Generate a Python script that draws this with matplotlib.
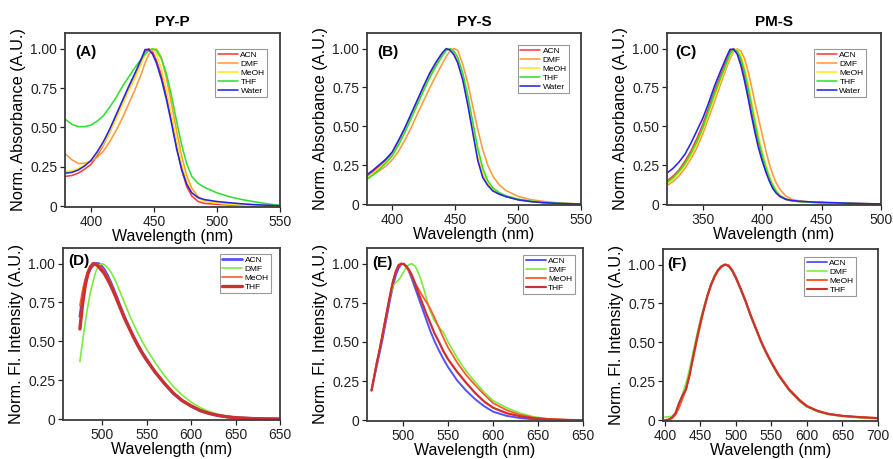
import matplotlib
matplotlib.use("Agg")
import matplotlib.pyplot as plt

plt.rcParams['font.family'] = ['Liberation Sans', 'DejaVu Sans']

# ---------------- data ----------------
titles = ["PY-P", "PY-S", "PM-S"]
panel_letters = ["(A)", "(B)", "(C)", "(D)", "(E)", "(F)"]
abs_solvents = ["ACN", "DMF", "MeOH", "THF", "Water"]
fl_solvents = ["ACN", "DMF", "MeOH", "THF"]

wl_A = [380, 385, 390, 395, 400, 405, 410, 415, 420, 425, 430, 435, 440, 443, 446, 449, 452,
        456, 460, 464, 468, 472, 476, 480, 485, 490, 500, 510, 520, 530, 540, 550]
A_ACN = [0.19, 0.195, 0.21, 0.235, 0.265, 0.32, 0.39, 0.47, 0.56, 0.65, 0.74, 0.82, 0.91, 0.98, 1.0, 0.98, 0.925,
         0.83, 0.70, 0.55, 0.38, 0.23, 0.125, 0.065, 0.03, 0.018, 0.012, 0.008, 0.005, 0.003, 0.002, 0.001]
A_DMF = [0.33, 0.295, 0.272, 0.272, 0.285, 0.31, 0.35, 0.41, 0.48, 0.56, 0.65, 0.74, 0.84, 0.91, 0.965, 0.993, 0.998,
         0.945, 0.81, 0.65, 0.48, 0.32, 0.195, 0.115, 0.06, 0.035, 0.02, 0.013, 0.008, 0.005, 0.003, 0.001]
A_MeOH = [0.22, 0.225, 0.24, 0.26, 0.29, 0.335, 0.395, 0.47, 0.555, 0.645, 0.735, 0.815, 0.905, 0.965, 0.99, 0.998, 0.97,
          0.87, 0.735, 0.58, 0.42, 0.27, 0.16, 0.09, 0.05, 0.032, 0.02, 0.013, 0.008, 0.005, 0.003, 0.001]
A_THF = [0.55, 0.52, 0.505, 0.505, 0.515, 0.54, 0.575, 0.63, 0.69, 0.76, 0.82, 0.88, 0.935, 0.965, 0.99, 1.0, 0.99,
         0.935, 0.84, 0.70, 0.54, 0.39, 0.27, 0.19, 0.145, 0.12, 0.085, 0.06, 0.042, 0.028, 0.015, 0.005]
A_Water = [0.21, 0.215, 0.23, 0.255, 0.29, 0.345, 0.41, 0.49, 0.58, 0.67, 0.76, 0.845, 0.935, 0.995, 0.995, 0.965, 0.91,
           0.805, 0.675, 0.525, 0.365, 0.235, 0.14, 0.085, 0.055, 0.042, 0.03, 0.022, 0.015, 0.01, 0.006, 0.003]

wl_B = [380, 385, 390, 395, 400, 405, 410, 415, 420, 425, 430, 435, 440, 443, 446, 449, 452,
        456, 460, 464, 468, 472, 476, 480, 485, 490, 500, 510, 520, 530, 540, 550]
B_ACN = [0.18, 0.21, 0.245, 0.28, 0.325, 0.395, 0.475, 0.565, 0.655, 0.745, 0.83, 0.905, 0.965, 0.993, 0.998, 0.975, 0.925,
         0.82, 0.67, 0.49, 0.31, 0.195, 0.13, 0.09, 0.065, 0.05, 0.03, 0.018, 0.011, 0.006, 0.003, 0.001]
B_DMF = [0.17, 0.19, 0.215, 0.245, 0.285, 0.34, 0.41, 0.49, 0.58, 0.665, 0.75, 0.83, 0.905, 0.95, 0.985, 1.0, 0.99,
         0.90, 0.78, 0.63, 0.48, 0.35, 0.25, 0.18, 0.125, 0.09, 0.05, 0.03, 0.018, 0.01, 0.005, 0.002]
B_MeOH = [0.17, 0.20, 0.235, 0.27, 0.315, 0.385, 0.465, 0.555, 0.645, 0.735, 0.82, 0.895, 0.96, 0.99, 0.998, 0.98, 0.935,
          0.83, 0.68, 0.50, 0.32, 0.20, 0.135, 0.095, 0.068, 0.052, 0.031, 0.019, 0.011, 0.006, 0.003, 0.001]
B_THF = [0.16, 0.19, 0.225, 0.265, 0.31, 0.38, 0.46, 0.55, 0.64, 0.73, 0.815, 0.89, 0.955, 0.99, 1.0, 0.985, 0.945,
         0.845, 0.70, 0.53, 0.36, 0.23, 0.15, 0.105, 0.075, 0.055, 0.033, 0.02, 0.012, 0.007, 0.004, 0.001]
B_Water = [0.19, 0.22, 0.255, 0.29, 0.335, 0.41, 0.49, 0.58, 0.67, 0.76, 0.845, 0.915, 0.975, 1.0, 0.99, 0.96, 0.91,
           0.80, 0.64, 0.46, 0.28, 0.17, 0.12, 0.085, 0.065, 0.05, 0.028, 0.017, 0.01, 0.006, 0.003, 0.001]

wl_C = [320, 325, 330, 335, 340, 345, 350, 355, 360, 365, 370, 373, 376, 379, 382, 385, 388, 391,
        394, 397, 400, 403, 406, 409, 412, 415, 420, 425, 430, 440, 450, 460, 470, 480, 490, 500]
C_ACN = [0.15, 0.18, 0.22, 0.275, 0.34, 0.42, 0.51, 0.62, 0.73, 0.83, 0.925, 0.98, 1.0, 0.98, 0.92, 0.83, 0.72, 0.60,
         0.49, 0.39, 0.30, 0.22, 0.16, 0.11, 0.075, 0.05, 0.03, 0.022, 0.018, 0.013, 0.01, 0.008, 0.006, 0.004, 0.003, 0.002]
C_DMF = [0.12, 0.145, 0.18, 0.23, 0.29, 0.36, 0.45, 0.555, 0.66, 0.77, 0.875, 0.935, 0.98, 0.998, 0.985, 0.94, 0.86, 0.76,
         0.65, 0.55, 0.45, 0.35, 0.26, 0.19, 0.135, 0.095, 0.052, 0.032, 0.023, 0.015, 0.011, 0.008, 0.006, 0.004, 0.003, 0.002]
C_MeOH = [0.13, 0.16, 0.20, 0.25, 0.31, 0.385, 0.475, 0.58, 0.69, 0.795, 0.895, 0.955, 0.99, 0.995, 0.96, 0.885, 0.785, 0.67,
          0.55, 0.44, 0.34, 0.26, 0.185, 0.13, 0.09, 0.06, 0.034, 0.024, 0.019, 0.014, 0.011, 0.008, 0.006, 0.004, 0.003, 0.002]
C_THF = [0.14, 0.17, 0.21, 0.26, 0.325, 0.40, 0.49, 0.60, 0.71, 0.81, 0.905, 0.965, 0.997, 0.985, 0.94, 0.86, 0.755, 0.64,
         0.52, 0.41, 0.32, 0.24, 0.17, 0.12, 0.08, 0.055, 0.032, 0.022, 0.018, 0.013, 0.01, 0.008, 0.006, 0.004, 0.003, 0.002]
C_Water = [0.20, 0.23, 0.27, 0.32, 0.39, 0.47, 0.55, 0.65, 0.76, 0.855, 0.945, 0.995, 0.995, 0.965, 0.895, 0.80, 0.69, 0.57,
           0.46, 0.36, 0.28, 0.21, 0.15, 0.10, 0.07, 0.05, 0.032, 0.024, 0.02, 0.015, 0.012, 0.01, 0.007, 0.005, 0.003, 0.002]

wl_D = [475, 478, 481, 484, 487, 490, 493, 496, 499, 502, 506, 510, 515, 520, 525, 530, 535, 540, 545, 550,
        560, 570, 580, 590, 600, 610, 620, 630, 640, 650, 670, 700]
D_ACN = [0.66, 0.78, 0.87, 0.93, 0.97, 0.99, 1.0, 1.0, 0.985, 0.965, 0.925, 0.875, 0.805, 0.73, 0.66, 0.595, 0.535, 0.48,
         0.43, 0.385, 0.30, 0.23, 0.165, 0.118, 0.083, 0.055, 0.037, 0.024, 0.015, 0.01, 0.004, 0.001]
D_DMF = [0.37, 0.50, 0.62, 0.73, 0.82, 0.89, 0.95, 0.985, 1.0, 0.995, 0.975, 0.945, 0.89, 0.82, 0.75, 0.68, 0.615, 0.555,
         0.50, 0.45, 0.36, 0.28, 0.21, 0.155, 0.11, 0.075, 0.05, 0.032, 0.02, 0.013, 0.005, 0.001]
D_MeOH = [0.73, 0.83, 0.90, 0.95, 0.98, 0.995, 1.0, 0.99, 0.975, 0.955, 0.915, 0.87, 0.80, 0.73, 0.66, 0.595, 0.535, 0.48,
          0.43, 0.385, 0.30, 0.23, 0.168, 0.12, 0.085, 0.056, 0.038, 0.025, 0.016, 0.01, 0.004, 0.001]
D_THF = [0.58, 0.74, 0.86, 0.94, 0.98, 1.0, 0.995, 0.98, 0.96, 0.94, 0.90, 0.855, 0.79, 0.72, 0.65, 0.59, 0.53, 0.475,
         0.425, 0.38, 0.30, 0.23, 0.168, 0.12, 0.086, 0.057, 0.038, 0.025, 0.016, 0.01, 0.004, 0.001]

wl_E = [465, 468, 471, 474, 477, 480, 483, 486, 489, 492, 495, 498, 501, 504, 507, 510, 514, 518, 522, 526, 530,
        535, 540, 545, 550, 560, 570, 580, 590, 600, 615, 630, 645, 660, 680, 700]
E_ACN = [0.19, 0.27, 0.35, 0.43, 0.51, 0.60, 0.69, 0.78, 0.86, 0.925, 0.97, 0.995, 1.0, 0.98, 0.945, 0.9, 0.835, 0.77,
         0.705, 0.64, 0.575, 0.505, 0.445, 0.39, 0.34, 0.255, 0.19, 0.135, 0.09, 0.055, 0.028, 0.014, 0.006, 0.002, 0.001, 0.0]
E_DMF = [0.19, 0.28, 0.37, 0.45, 0.54, 0.63, 0.72, 0.80, 0.86, 0.88, 0.895, 0.92, 0.95, 0.98, 0.995, 1.0, 0.98, 0.93,
         0.86, 0.78, 0.70, 0.635, 0.595, 0.56, 0.50, 0.40, 0.315, 0.245, 0.18, 0.125, 0.08, 0.045, 0.022, 0.01, 0.003, 0.0]
E_MeOH = [0.19, 0.28, 0.37, 0.45, 0.54, 0.63, 0.72, 0.81, 0.89, 0.95, 0.99, 1.0, 0.995, 0.975, 0.95, 0.915, 0.87, 0.83,
          0.79, 0.755, 0.715, 0.655, 0.59, 0.525, 0.465, 0.37, 0.29, 0.225, 0.165, 0.11, 0.065, 0.035, 0.017, 0.008, 0.003, 0.0]
E_THF = [0.19, 0.28, 0.37, 0.45, 0.54, 0.63, 0.72, 0.81, 0.89, 0.95, 0.99, 1.0, 0.997, 0.982, 0.958, 0.925, 0.865, 0.80,
         0.74, 0.68, 0.625, 0.555, 0.50, 0.44, 0.39, 0.31, 0.24, 0.175, 0.12, 0.08, 0.045, 0.025, 0.012, 0.006, 0.002, 0.0]

wl_F = [400, 405, 410, 415, 420, 425, 430, 435, 440, 445, 450, 455, 460, 465, 470, 475, 480, 485, 490, 495, 500,
        507, 514, 521, 528, 535, 542, 550, 560, 575, 590, 600, 615, 630, 650, 675, 700]
F_ACN = [0.0, 0.003, 0.015, 0.04, 0.09, 0.15, 0.21, 0.31, 0.42, 0.53, 0.63, 0.72, 0.80, 0.87, 0.925, 0.965, 0.99, 1.0,
         0.995, 0.96, 0.915, 0.84, 0.76, 0.67, 0.59, 0.51, 0.44, 0.37, 0.29, 0.195, 0.125, 0.09, 0.058, 0.04, 0.027, 0.018, 0.012]
F_DMF = [0.02, 0.022, 0.025, 0.045, 0.10, 0.17, 0.24, 0.33, 0.44, 0.545, 0.645, 0.73, 0.805, 0.875, 0.93, 0.97, 0.99, 1.0,
         0.99, 0.955, 0.91, 0.835, 0.755, 0.665, 0.585, 0.505, 0.435, 0.365, 0.285, 0.19, 0.12, 0.085, 0.055, 0.037, 0.024, 0.015, 0.01]
F_MeOH = [0.0, 0.002, 0.012, 0.035, 0.08, 0.14, 0.20, 0.30, 0.40, 0.51, 0.61, 0.71, 0.795, 0.865, 0.92, 0.96, 0.985, 1.0,
          0.995, 0.965, 0.92, 0.845, 0.765, 0.675, 0.595, 0.515, 0.445, 0.375, 0.295, 0.2, 0.13, 0.092, 0.06, 0.042, 0.028, 0.019, 0.013]
F_THF = [0.0, 0.004, 0.016, 0.045, 0.11, 0.16, 0.20, 0.29, 0.41, 0.52, 0.625, 0.715, 0.80, 0.87, 0.925, 0.965, 0.99, 1.0,
         0.99, 0.96, 0.915, 0.84, 0.76, 0.67, 0.59, 0.51, 0.44, 0.37, 0.29, 0.195, 0.125, 0.09, 0.06, 0.04, 0.028, 0.02, 0.014]

y_ticks = [0, 0.25, 0.5, 0.75, 1.0]
y_ticklabels = ["0", "0.25", "0.50", "0.75", "1.00"]
xt_A = [400, 450, 500, 550]
xt_C = [350, 400, 450, 500]
xt_DE = [500, 550, 600, 650, 700]
xtl_DE = ["500", "550", "600", "650", "650"]
xt_F = [400, 450, 500, 550, 600, 650, 700]

# ---------------- style ----------------
abs_colors = {"ACN": "#ff3b3b", "DMF": "#ff9a3c", "MeOH": "#ffe81a", "THF": "#2fe02f", "Water": "#2424e8"}
fl_colors = {"ACN": "#5252ff", "DMF": "#7aec3c", "MeOH": "#ff5a28", "THF": "#cc3030"}
D_lw = {"ACN": 2.0, "DMF": 1.2, "MeOH": 1.2, "THF": 2.4}
E_lw = {"ACN": 1.4, "DMF": 1.2, "MeOH": 1.3, "THF": 1.6}
F_lw = {"ACN": 1.3, "DMF": 1.2, "MeOH": 1.4, "THF": 1.5}

W, H = 893, 459


def rect(l, r, t, b):
    return [l / W, 1 - b / H, (r - l) / W, (b - t) / H]


fig = plt.figure(figsize=(W / 100, H / 100), dpi=100)
fig.patch.set_facecolor("white")

panels = [
    dict(rect=rect(65, 280, 33, 207), wl=wl_A, ys=dict(ACN=A_ACN, DMF=A_DMF, MeOH=A_MeOH, THF=A_THF, Water=A_Water),
         solv=abs_solvents, colors=abs_colors, lw=None, xlim=(379.5, 550), xt=xt_A, xtl=None,
         ylabel="Norm. Absorbance (A.U.)", title=titles[0], lab=(0.05, 0.93), leg=(0.94, 0.908)),
    dict(rect=rect(367, 581, 33, 205), wl=wl_B, ys=dict(ACN=B_ACN, DMF=B_DMF, MeOH=B_MeOH, THF=B_THF, Water=B_Water),
         solv=abs_solvents, colors=abs_colors, lw=None, xlim=(380, 550), xt=xt_A, xtl=None,
         ylabel="Norm. Absorbance (A.U.)", title=titles[1], lab=(0.05, 0.93), leg=(0.945, 0.93)),
    dict(rect=rect(667, 881, 33, 205), wl=wl_C, ys=dict(ACN=C_ACN, DMF=C_DMF, MeOH=C_MeOH, THF=C_THF, Water=C_Water),
         solv=abs_solvents, colors=abs_colors, lw=None, xlim=(320, 500), xt=xt_C, xtl=None,
         ylabel="Norm. Absorbance (A.U.)", title=titles[2], lab=(0.037, 0.93), leg=(0.93, 0.907)),
    dict(rect=rect(63, 280, 248, 420), wl=wl_D, ys=dict(ACN=D_ACN, DMF=D_DMF, MeOH=D_MeOH, THF=D_THF),
         solv=fl_solvents, colors=fl_colors, lw=D_lw, xlim=(456, 700), xt=xt_DE, xtl=xtl_DE,
         ylabel="Norm. Fl. Intensity (A.U.)", title=None, lab=(0.023, 0.965), leg=(0.96, 0.965)),
    dict(rect=rect(367, 583, 248, 421), wl=wl_E, ys=dict(ACN=E_ACN, DMF=E_DMF, MeOH=E_MeOH, THF=E_THF),
         solv=fl_solvents, colors=fl_colors, lw=E_lw, xlim=(460, 700), xt=xt_DE, xtl=xtl_DE,
         ylabel="Norm. Fl. Intensity (A.U.)", title=None, lab=(0.023, 0.955), leg=(0.962, 0.96)),
    dict(rect=rect(663, 878, 249, 421), wl=wl_F, ys=dict(ACN=F_ACN, DMF=F_DMF, MeOH=F_MeOH, THF=F_THF),
         solv=fl_solvents, colors=fl_colors, lw=F_lw, xlim=(397.5, 700), xt=xt_F, xtl=None,
         ylabel="Norm. Fl. Intensity (A.U.)", title=None, lab=(0.02, 0.955), leg=(0.898, 0.955)),
]

frame_col = "#3c3c3c"
for i, p in enumerate(panels):
    ax = fig.add_axes(p["rect"])
    for s in p["solv"]:
        lw = 1.15 if p["lw"] is None else p["lw"][s]
        ax.plot(p["wl"], p["ys"][s], color=p["colors"][s], lw=lw, label=s,
                solid_joinstyle="round", solid_capstyle="round")
    ax.set_xlim(*p["xlim"])
    ax.set_ylim(-0.005, 1.10)
    ax.set_xticks(p["xt"])
    if p["xtl"] is not None:
        ax.set_xticklabels(p["xtl"])
    ax.set_yticks(y_ticks)
    ax.set_yticklabels(y_ticklabels)
    ax.tick_params(direction="out", length=3.5, width=0.9, labelsize=10, colors="#222222",
                   top=False, right=False, pad=2)
    for sp in ax.spines.values():
        sp.set_color(frame_col)
        sp.set_linewidth(1.3)
    ax.set_xlabel("Wavelength (nm)", fontsize=11.5, labelpad=0)
    ax.set_ylabel(p["ylabel"], fontsize=11.8, labelpad=3)
    if p["title"]:
        ax.set_title(p["title"], fontsize=11, fontweight="bold", pad=5)
    ax.text(p["lab"][0], p["lab"][1], panel_letters[i], transform=ax.transAxes,
            fontsize=11, fontweight="bold", va="top", ha="left")
    leg = ax.legend(loc="upper right", bbox_to_anchor=p["leg"], fontsize=6, frameon=True,
                    fancybox=False, framealpha=1, edgecolor="#999999", handlelength=2.4,
                    handletextpad=0.3, labelspacing=0.12, borderpad=0.3, borderaxespad=0)
    leg.get_frame().set_linewidth(0.8)

fig.savefig("out.png", dpi=100, facecolor="white")
